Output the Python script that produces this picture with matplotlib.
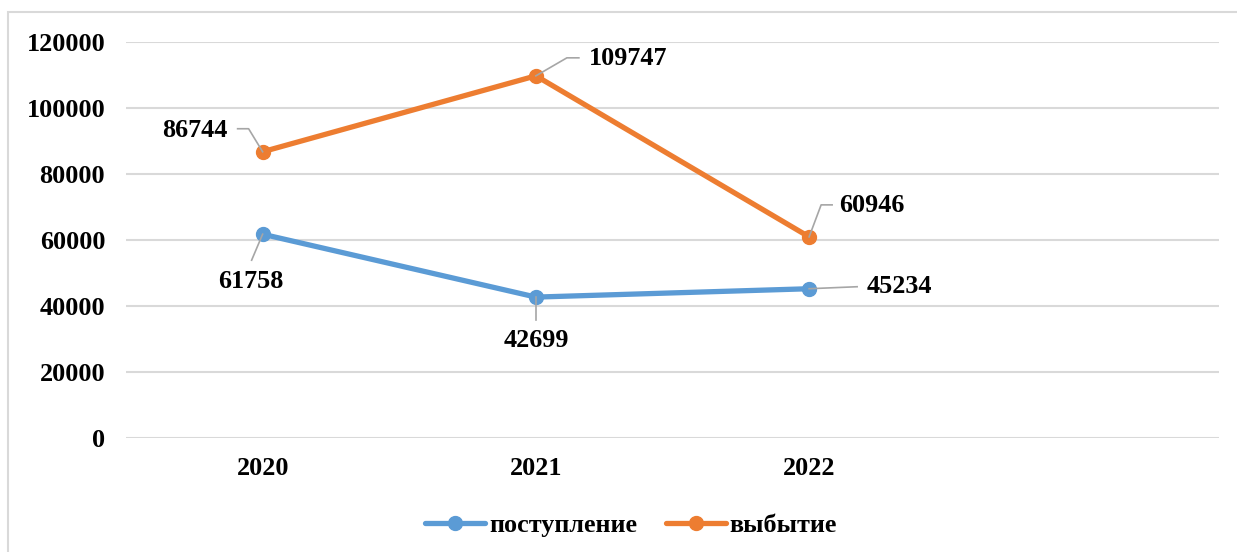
import matplotlib
matplotlib.use("Agg")
import matplotlib.pyplot as plt
from matplotlib.patches import Rectangle
from matplotlib.lines import Line2D
from matplotlib.transforms import IdentityTransform

categories = ["2020", "2021", "2022", ""]
series_names = ["поступление", "выбытие"]
postuplenie = [61758, 42699, 45234]
vybytie = [86744, 109747, 60946]
yticks = [0, 20000, 40000, 60000, 80000, 100000, 120000]

W, H = 1237, 552
dpi = 100
plt.rcParams['font.family'] = ['Liberation Serif', 'DejaVu Serif']
plt.rcParams['font.weight'] = 'bold'

fig = plt.figure(figsize=(W / dpi, H / dpi), dpi=dpi)

def px(x0, y0, x1, y1):
    return [x0 / W, 1 - y1 / H, (x1 - x0) / W, (y1 - y0) / H]

ax = fig.add_axes(px(126, 42, 1219, 438))
ax.set_xlim(-0.5, len(categories) - 0.5)
ax.set_ylim(0, 120000)
ax.set_yticks(yticks)
ax.set_yticklabels([str(v) for v in yticks], fontsize=18.8, fontweight='bold')
ax.set_xticks(range(len(categories)))
ax.set_xticklabels(categories, fontsize=18.8, fontweight='bold')
ax.tick_params(axis='both', length=0)
ax.tick_params(axis='y', pad=15)
ax.tick_params(axis='x', pad=14)
for s in ax.spines.values():
    s.set_visible(False)
ax.grid(axis='y', color='#D9D9D9', linewidth=1.5)
ax.set_axisbelow(True)

blue = '#5B9BD5'
orange = '#ED7D31'
xs = range(len(postuplenie))
ax.plot(xs, postuplenie, color=blue, lw=3.8, marker='o', ms=10,
        label=series_names[0], solid_capstyle='round', zorder=3)
ax.plot(xs, vybytie, color=orange, lw=3.8, marker='o', ms=10,
        label=series_names[1], solid_capstyle='round', zorder=3)

# label placement: text offset in px (dx, dy with down positive) and leader path
lab_specs_b = [
    ((-12, 47), [(0, 0), (-11, 26)]),
    ((0, 43), [(0, 0), (0, 23)]),
    ((90, -2), [(0, 0), (48, -2)]),
]
lab_specs_o = [
    ((-68, -21), [(0, 0), (-14, -23), (-25, -23)]),
    ((92, -17), [(0, 0), (31, -18), (43, -18)]),
    ((63, -31), [(0, 0), (12, -32), (23, -32)]),
]

fig.canvas.draw()
for vals, specs in ((postuplenie, lab_specs_b), (vybytie, lab_specs_o)):
    for i, (v, (toff, path)) in enumerate(zip(vals, specs)):
        X, Y = ax.transData.transform((i, v))
        fig.text((X + toff[0]) / W, (Y - toff[1]) / H, str(v),
                 ha='center', va='center', fontsize=18.8, fontweight='bold')
        line = Line2D([X + p[0] for p in path], [Y - p[1] for p in path],
                      transform=IdentityTransform(), color='#A6A6A6', lw=1.2, zorder=4)
        fig.add_artist(line)

leg = fig.legend(loc='center', bbox_to_anchor=(631 / W, 1 - 525 / H), ncol=2,
                 frameon=False, handlelength=2.3, columnspacing=1.1,
                 handletextpad=0.15, prop={'weight': 'bold', 'size': 18.8})

fig.add_artist(Rectangle((8 / W, -0.1), 1.2, 1 - 12 / H + 0.1, transform=fig.transFigure,
                         fill=False, edgecolor='#D9D9D9', lw=1.5))

fig.savefig("out.png", dpi=dpi)
